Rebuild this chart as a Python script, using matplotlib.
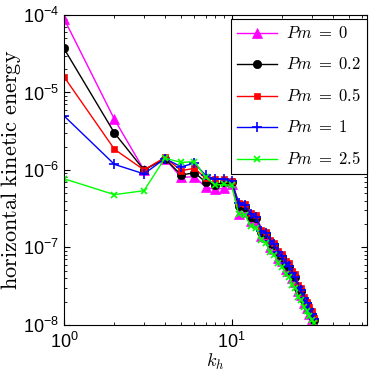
import numpy as np
import matplotlib.pyplot as plt

plt.rcParams['mathtext.fontset'] = 'cm'
plt.rcParams['font.family'] = ['Liberation Sans', 'DejaVu Sans']

# wavenumbers
k = np.arange(1, 32)

# horizontal kinetic energy spectra for each Pm
e_pm0 = [9.0e-5, 4.5e-6, 1.0e-6, 1.4e-6, 8.0e-7, 8.2e-7, 6.0e-7, 5.6e-7, 5.8e-7, 6.5e-7,
         2.7e-7, 2.9e-7, 2.2e-7, 2.1e-7, 1.4e-7, 1.35e-7, 1.0e-7, 9.5e-8, 7.2e-8, 6.6e-8,
         5.3e-8, 5.0e-8, 4.0e-8, 3.6e-8, 2.7e-8, 2.4e-8, 1.9e-8, 1.65e-8, 1.4e-8, 1.2e-8, 1.05e-8]
e_pm02 = [3.7e-5, 3.0e-6, 1.0e-6, 1.4e-6, 8.6e-7, 9.2e-7, 7.0e-7, 6.4e-7, 7.0e-7, 7.0e-7,
          3.4e-7, 3.3e-7, 2.5e-7, 2.4e-7, 1.6e-7, 1.5e-7, 1.15e-7, 1.07e-7, 8.3e-8, 7.5e-8,
          6.0e-8, 5.6e-8, 4.6e-8, 4.1e-8, 3.0e-8, 2.7e-8, 2.1e-8, 1.85e-8, 1.55e-8, 1.35e-8, 1.15e-8]
e_pm05 = [1.6e-5, 1.85e-6, 1.0e-6, 1.45e-6, 9.8e-7, 1.05e-6, 7.8e-7, 7.6e-7, 7.6e-7, 7.2e-7,
          3.8e-7, 3.6e-7, 2.8e-7, 2.6e-7, 1.7e-7, 1.6e-7, 1.25e-7, 1.15e-7, 9.0e-8, 8.2e-8,
          6.6e-8, 6.2e-8, 5.0e-8, 4.5e-8, 3.3e-8, 3.0e-8, 2.3e-8, 2.0e-8, 1.7e-8, 1.5e-8, 1.22e-8]
e_pm1 = [5.0e-6, 1.18e-6, 8.9e-7, 1.4e-6, 1.1e-6, 1.22e-6, 8.5e-7, 7.6e-7, 7.6e-7, 7.2e-7,
         3.7e-7, 3.5e-7, 2.7e-7, 2.5e-7, 1.65e-7, 1.55e-7, 1.2e-7, 1.1e-7, 8.6e-8, 7.8e-8,
         6.3e-8, 5.8e-8, 4.7e-8, 4.2e-8, 3.1e-8, 2.8e-8, 2.2e-8, 1.9e-8, 1.6e-8, 1.4e-8, 1.18e-8]
e_pm25 = [7.7e-7, 4.8e-7, 5.4e-7, 1.42e-6, 1.25e-6, 1.28e-6, 8.0e-7, 6.4e-7, 6.5e-7, 6.3e-7,
          2.7e-7, 2.6e-7, 1.9e-7, 1.8e-7, 1.25e-7, 1.15e-7, 8.6e-8, 8.0e-8, 6.2e-8, 5.6e-8,
          4.5e-8, 4.1e-8, 3.3e-8, 3.0e-8, 2.3e-8, 2.1e-8, 1.7e-8, 1.5e-8, 1.3e-8, 1.15e-8, 1.05e-8]

series = [
    (e_pm0, r'$Pm\;=\;0$', (1, 0, 1), '^', 7),
    (e_pm02, r'$Pm\;=\;0.2$', 'k', 'o', 6),
    (e_pm05, r'$Pm\;=\;0.5$', (1, 0, 0), 's', 5),
    (e_pm1, r'$Pm\;=\;1$', (0, 0, 1), '+', 7),
    (e_pm25, r'$Pm\;=\;2.5$', (0, 1, 0), 'x', 4.5),
]

fig = plt.figure(figsize=(3.74, 3.76), dpi=100)
ax = fig.add_axes([0.171, 0.136, 0.81, 0.824])

for e, lab, c, m, ms in series:
    ax.loglog(k, e, color=c, marker=m, markersize=ms, linewidth=1,
              markeredgewidth=1.2 if m in '+x' else 0.5, label=lab)

ax.set_xlim(1, 64)
ax.set_ylim(1e-8, 1e-4)
ax.tick_params(which='both', direction='in', top=True, right=True, labelsize=13)
ax.tick_params(axis='x', which='both', pad=5)
ax.tick_params(which='major', length=4)
ax.tick_params(which='minor', length=2)
ax.set_xlabel(r'$k_h$', fontsize=13, labelpad=0)
ax.set_ylabel(r'$\mathrm{horizontal\ kinetic\ energy}$', fontsize=16, labelpad=0)

leg = ax.legend(loc='upper right', bbox_to_anchor=(1.0, 0.988), borderaxespad=0,
                fancybox=False, framealpha=1, edgecolor='k', fontsize=12,
                handlelength=2.4, handletextpad=0.5, labelspacing=0.9)
leg.get_frame().set_linewidth(0.8)

fig.savefig('out.png', dpi=100)
